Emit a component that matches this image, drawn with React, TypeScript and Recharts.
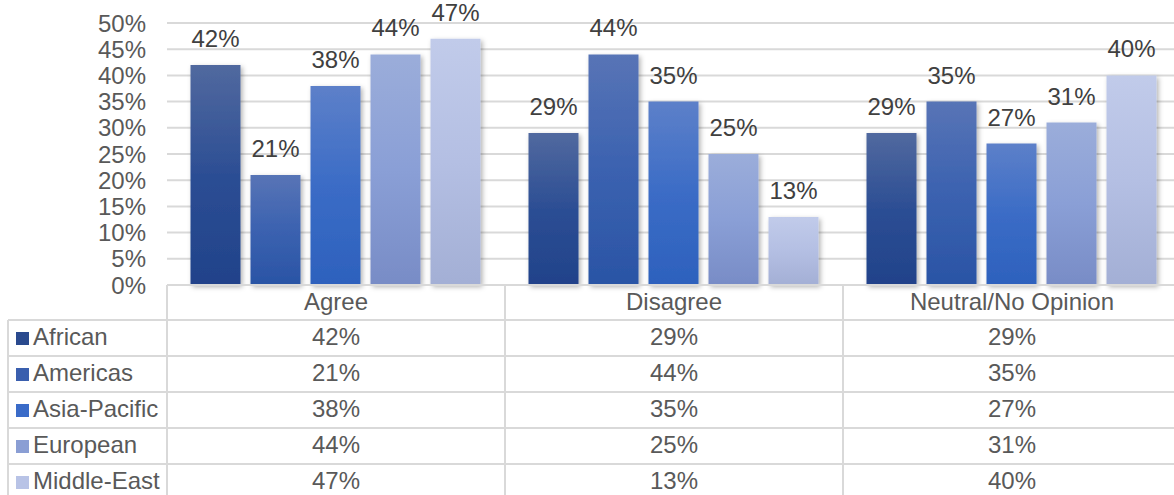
import React from 'react';
import { BarChart, Bar, XAxis, YAxis, CartesianGrid, LabelList } from 'recharts';

const categories = ['Agree', 'Disagree', 'Neutral/No Opinion'];
const seriesNames = ['African', 'Americas', 'Asia-Pacific', 'European', 'Middle-East'];
const african = [42, 29, 29];
const americas = [21, 44, 35];
const asiaPacific = [38, 35, 27];
const european = [44, 25, 31];
const middleEast = [47, 13, 40];
const yTicks = [0, 5, 10, 15, 20, 25, 30, 35, 40, 45, 50];

const seriesValues = [african, americas, asiaPacific, european, middleEast];
const keys = ['african', 'americas', 'asiaPacific', 'european', 'middleEast'];

const gradients = [
  ['#51699f', '#2c4e94', '#21428a'],
  ['#5874b6', '#3b62b0', '#2a54a5'],
  ['#5d80c9', '#3b6cc6', '#2d61bd'],
  ['#9badda', '#8a9fd6', '#788cc6'],
  ['#c1cbea', '#b4bfe3', '#a3afd5'],
];
const legendColors = ['#2a4a8e', '#3a5fae', '#3a6bc8', '#8a9ed4', '#b8c3e6'];

const data = categories.map((c, i) => {
  const row: Record<string, any> = { category: c };
  keys.forEach((k, s) => {
    row[k] = seriesValues[s][i];
  });
  return row;
});

const FONT = '"Liberation Sans", Arial, sans-serif';
const W = 1174;
const CHART_W = 1181;
const H = 495;
const PLOT_LEFT = 167;
const PLOT_TOP = 23;
const PLOT_BOTTOM = 285;
const TABLE_LEFT = 8;
const HEADER_H = 35;
const ROW_H = 36;
const GRID = '#d9d9d9';
const TEXT = '#595959';

const pct = (v: number) => `${v}%`;

function DataTable() {
  const colW = (CHART_W - PLOT_LEFT) / categories.length;
  const rowTop = (r: number) => PLOT_BOTTOM + HEADER_H + r * ROW_H;
  const lines: React.ReactNode[] = [];
  lines.push(<line key="top" x1={PLOT_LEFT} x2={CHART_W} y1={PLOT_BOTTOM} y2={PLOT_BOTTOM} stroke={GRID} strokeWidth={2} />);
  for (let r = 0; r < seriesNames.length; r++) {
    lines.push(<line key={'h' + r} x1={TABLE_LEFT} x2={CHART_W} y1={rowTop(r)} y2={rowTop(r)} stroke={GRID} strokeWidth={2} />);
  }
  lines.push(<line key="vl" x1={TABLE_LEFT} x2={TABLE_LEFT} y1={rowTop(0)} y2={H} stroke={GRID} strokeWidth={2} />);
  for (let c = 0; c < categories.length; c++) {
    const x = PLOT_LEFT + c * colW;
    lines.push(<line key={'v' + c} x1={x} x2={x} y1={PLOT_BOTTOM} y2={H} stroke={GRID} strokeWidth={2} />);
  }
  return (
    <svg width={CHART_W} height={H} style={{ position: 'absolute', left: 0, top: 0, pointerEvents: 'none' }}>
      {lines}
      {categories.map((c, i) => (
        <text key={'hc' + i} x={PLOT_LEFT + (i + 0.5) * colW} y={PLOT_BOTTOM + 25} textAnchor="middle" fontSize={24} fill={TEXT} fontFamily={FONT}>
          {c}
        </text>
      ))}
      {seriesNames.map((name, r) => (
        <g key={'r' + r}>
          <rect x={16} y={rowTop(r) + 12} width={13} height={13} fill={legendColors[r]} />
          <text x={33} y={rowTop(r) + 24.5} fontSize={24} fill={TEXT} fontFamily={FONT}>{name}</text>
          {categories.map((c, i) => (
            <text key={i} x={PLOT_LEFT + (i + 0.5) * colW} y={rowTop(r) + 24.5} textAnchor="middle" fontSize={24} fill={TEXT} fontFamily={FONT}>
              {pct(seriesValues[r][i])}
            </text>
          ))}
        </g>
      ))}
    </svg>
  );
}

export default function App() {
  return (
    <div style={{ position: 'absolute', left: 0, top: 0, width: W, height: H, overflow: 'hidden', background: '#fff', fontFamily: FONT }}>
      <BarChart
        width={CHART_W}
        height={H}
        data={data}
        margin={{ top: PLOT_TOP, right: 0, left: 0, bottom: H - PLOT_BOTTOM }}
        barCategoryGap={23.5}
        barGap={10}
      >
        <defs>
          {gradients.map((g, i) => (
            <linearGradient key={i} id={'grad' + i} x1="0" y1="0" x2="0" y2="1">
              <stop offset="0%" stopColor={g[0]} />
              <stop offset="50%" stopColor={g[1]} />
              <stop offset="100%" stopColor={g[2]} />
            </linearGradient>
          ))}
          <filter id="shadow" x="-20%" y="-10%" width="150%" height="130%">
            <feDropShadow dx="2" dy="2" stdDeviation="2.5" floodColor="#000" floodOpacity="0.3" />
          </filter>
        </defs>
        <CartesianGrid vertical={false} stroke={GRID} strokeWidth={2} />
        <XAxis dataKey="category" hide />
        <YAxis
          domain={[0, 50]}
          ticks={yTicks}
          tickFormatter={pct}
          width={PLOT_LEFT}
          axisLine={false}
          tickLine={false}
          tickSize={0}
          tickMargin={21}
          interval={0}
          tick={{ fontSize: 24, fill: TEXT, fontFamily: FONT }}
        />
        {keys.map((k, i) => (
          <Bar key={k} dataKey={k} name={seriesNames[i]} fill={`url(#grad${i})`} isAnimationActive={false} style={{ filter: 'url(#shadow)' }}>
            <LabelList dataKey={k} position="top" offset={18} formatter={pct} fontSize={24} fill="#404040" fontFamily={FONT} />
          </Bar>
        ))}
      </BarChart>
      <DataTable />
    </div>
  );
}
